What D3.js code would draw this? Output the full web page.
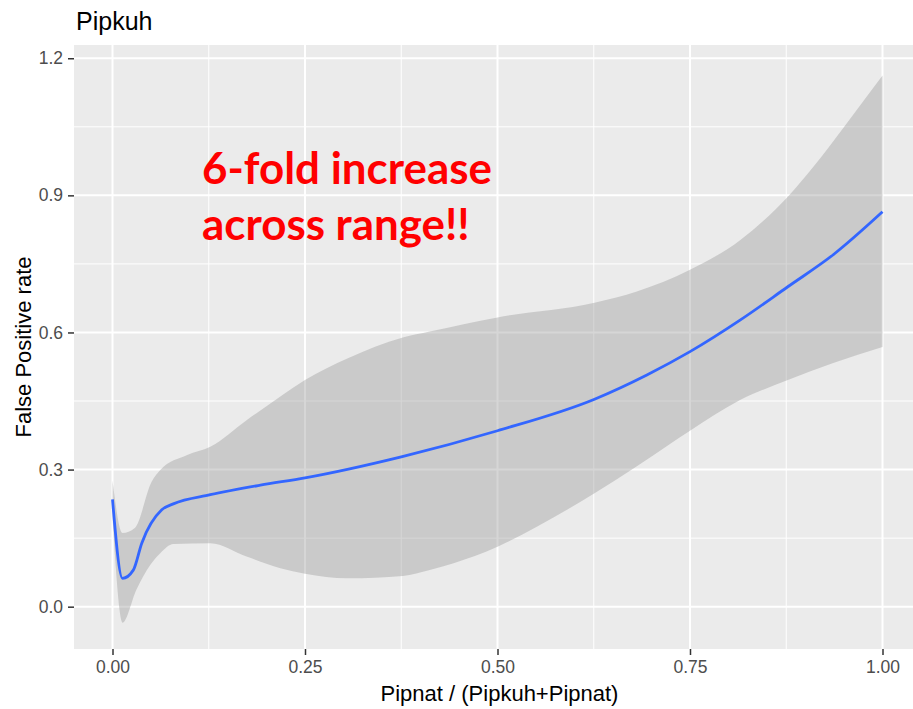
<!DOCTYPE html>
<html>
<head>
<meta charset="utf-8">
<script src="https://cdn.jsdelivr.net/npm/d3@7"></script>
<style>
  html, body { margin: 0; padding: 0; background: #ffffff; overflow: hidden; }
  svg { display: block; }
</style>
</head>
<body>
<svg id="chart" width="913" height="709"></svg>
<script>
// Loess fit of the false positive rate against the Pipnat share
const fitX = [0, 0.013, 0.027, 0.038, 0.064, 0.079, 0.127, 0.192, 0.25, 0.375, 0.5, 0.626, 0.694, 0.75, 0.815, 0.877, 0.936, 1.0];
const fitY = [0.235, 0.062, 0.080, 0.139, 0.212, 0.225, 0.245, 0.266, 0.282, 0.328, 0.385, 0.454, 0.507, 0.558, 0.627, 0.700, 0.770, 0.864];

// Confidence band, upper edge
const upperX = [0, 0.013, 0.029, 0.051, 0.062, 0.097, 0.127, 0.175, 0.218, 0.25, 0.305, 0.377, 0.412, 0.5, 0.626, 0.68, 0.75, 0.815, 0.877, 0.91, 0.951, 1.0];
const upperY = [0.276, 0.161, 0.172, 0.274, 0.299, 0.332, 0.350, 0.409, 0.460, 0.496, 0.543, 0.589, 0.602, 0.633, 0.665, 0.689, 0.737, 0.802, 0.897, 0.962, 1.052, 1.162];

// Confidence band, lower edge
const lowerX = [0, 0.013, 0.031, 0.049, 0.062, 0.079, 0.127, 0.175, 0.218, 0.25, 0.305, 0.377, 0.412, 0.443, 0.5, 0.551, 0.626, 0.68, 0.724, 0.75, 0.815, 0.877, 0.936, 1.0];
const lowerY = [0.195, -0.035, 0.037, 0.091, 0.117, 0.137, 0.139, 0.109, 0.084, 0.072, 0.062, 0.067, 0.080, 0.095, 0.131, 0.175, 0.248, 0.306, 0.356, 0.385, 0.452, 0.496, 0.533, 0.568];

const xTicks = [0, 0.25, 0.5, 0.75, 1.0];
const xTickLabels = ["0.00", "0.25", "0.50", "0.75", "1.00"];
const xMinor = [0.125, 0.375, 0.625, 0.875];
const yTicks = [0, 0.3, 0.6, 0.9, 1.2];
const yTickLabels = ["0.0", "0.3", "0.6", "0.9", "1.2"];
const yMinor = [0.15, 0.45, 0.75, 1.05];

const titleText = "Pipkuh";
const xTitle = "Pipnat / (Pipkuh+Pipnat)";
const yTitle = "False Positive rate";
const noteLines = ["6-fold increase", "across range!!"];

const svg = d3.select("#chart");
const panel = { left: 74, top: 45, right: 921, bottom: 649 };

const x = d3.scaleLinear().domain([-0.05, 1.05]).range([panel.left, panel.right]);
const y = d3.scaleLinear().domain([-0.0926, 1.229]).range([panel.bottom, panel.top]);

const font = "'Liberation Sans', Arial, sans-serif";

// panel background
svg.append("rect")
  .attr("x", panel.left).attr("y", panel.top)
  .attr("width", panel.right - panel.left).attr("height", panel.bottom - panel.top)
  .attr("fill", "#EBEBEB");

const grid = svg.append("g");
// minor grid
grid.selectAll(".vminor").data(xMinor).join("line")
  .attr("x1", d => x(d)).attr("x2", d => x(d))
  .attr("y1", panel.top).attr("y2", panel.bottom)
  .attr("stroke", "#fff").attr("stroke-width", 1);
grid.selectAll(".hminor").data(yMinor).join("line")
  .attr("y1", d => y(d)).attr("y2", d => y(d))
  .attr("x1", panel.left).attr("x2", panel.right)
  .attr("stroke", "#fff").attr("stroke-width", 1);
// major grid
grid.selectAll(".vmajor").data(xTicks).join("line")
  .attr("x1", d => x(d)).attr("x2", d => x(d))
  .attr("y1", panel.top).attr("y2", panel.bottom)
  .attr("stroke", "#fff").attr("stroke-width", 2);
grid.selectAll(".hmajor").data(yTicks).join("line")
  .attr("y1", d => y(d)).attr("y2", d => y(d))
  .attr("x1", panel.left).attr("x2", panel.right)
  .attr("stroke", "#fff").attr("stroke-width", 2);

// confidence band: upper edge forward, then lower edge backward
const upperPts = upperX.map((d, i) => [d, upperY[i]]);
const lowerPts = lowerX.map((d, i) => [d, lowerY[i]]).reverse();
const edge = d3.line().x(d => x(d[0])).y(d => y(d[1])).curve(d3.curveMonotoneX);
const upperPath = edge(upperPts);
const lowerPath = edge(lowerPts);
svg.append("path")
  .attr("d", upperPath + "L" + lowerPath.slice(1) + "Z")
  .attr("fill", "#999999")
  .attr("fill-opacity", 0.4);

// fitted line
svg.append("path")
  .datum(fitX.map((d, i) => [d, fitY[i]]))
  .attr("d", edge)
  .attr("fill", "none")
  .attr("stroke", "#3366FF")
  .attr("stroke-width", 2.8)
  .attr("stroke-linejoin", "round");

// axes
const xAxis = d3.axisBottom(x).tickValues(xTicks).tickFormat((d, i) => xTickLabels[i]).tickSize(6).tickPadding(6);
const gx = svg.append("g").attr("transform", `translate(0,${panel.bottom})`).call(xAxis);
gx.select(".domain").remove();
gx.selectAll(".tick line").attr("stroke", "#333333").attr("stroke-width", 1.5);
gx.selectAll(".tick text").attr("fill", "#4D4D4D").attr("font-family", font).attr("font-size", "17.5px");

const yAxis = d3.axisLeft(y).tickValues(yTicks).tickFormat((d, i) => yTickLabels[i]).tickSize(6).tickPadding(5);
const gy = svg.append("g").attr("transform", `translate(${panel.left},0)`).call(yAxis);
gy.select(".domain").remove();
gy.selectAll(".tick line").attr("stroke", "#333333").attr("stroke-width", 1.5);
gy.selectAll(".tick text").attr("fill", "#4D4D4D").attr("font-family", font).attr("font-size", "17.5px");

// titles
svg.append("text")
  .attr("x", 76).attr("y", 29.5)
  .attr("font-family", font).attr("font-size", "25px").attr("fill", "#000")
  .text(titleText);

svg.append("text")
  .attr("x", (panel.left + panel.right) / 2 + 2).attr("y", 701)
  .attr("text-anchor", "middle")
  .attr("font-family", font).attr("font-size", "22px").attr("fill", "#000")
  .text(xTitle);

svg.append("text")
  .attr("transform", `translate(31,${(panel.top + panel.bottom) / 2}) rotate(-90)`)
  .attr("text-anchor", "middle")
  .attr("font-family", font).attr("font-size", "22px").attr("fill", "#000")
  .text(yTitle);

// annotation
const note = svg.append("g");
const noteFont = "Lato, 'Open Sans', sans-serif";
const noteBase = [183.5, 240];
const lines = noteLines.map((t, i) => note.append("text")
  .attr("x", 202).attr("y", noteBase[i])
  .attr("font-family", noteFont).attr("font-weight", 700)
  .attr("font-size", "40px").attr("fill", "#FF0000")
  .text(t));
// size the note so its first line spans the intended width
const w0 = lines[0].node().getComputedTextLength();
const fs = 40 * 290 / w0;
lines.forEach(l => l.attr("font-size", fs + "px"));
</script>
</body>
</html>
